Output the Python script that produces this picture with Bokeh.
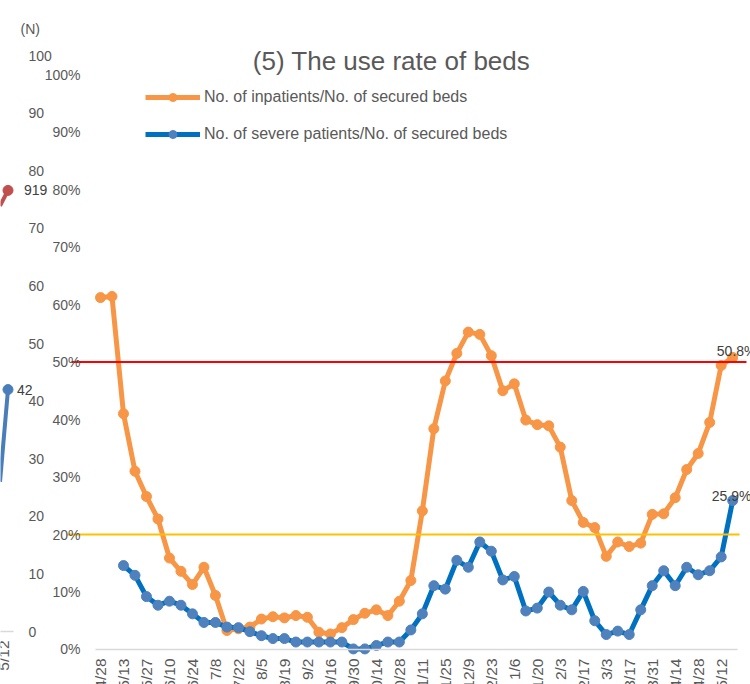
import math
from bokeh.plotting import figure
from bokeh.models import (Range1d, LinearAxis, FixedTicker, PrintfTickFormatter,
                          CustomJSTickFormatter, Legend, LegendItem, Label)
from bokeh.embed import file_html
from bokeh.resources import INLINE
from bokeh.core.properties import value

# ---------------- data ----------------
dates = ["4/28", "5/6", "5/13", "5/20", "5/27", "6/3", "6/10", "6/17", "6/24", "7/1",
         "7/8", "7/15", "7/22", "7/29", "8/5", "8/12", "8/19", "8/26", "9/2", "9/9",
         "9/16", "9/23", "9/30", "10/7", "10/14", "10/21", "10/28", "11/4", "11/11", "11/18",
         "11/25", "12/2", "12/9", "12/16", "12/23", "12/30", "1/6", "1/13", "1/20", "1/27",
         "2/3", "2/10", "2/17", "2/24", "3/3", "3/10", "3/17", "3/24", "3/31", "4/7",
         "4/14", "4/21", "4/28", "5/5", "5/12", "5/19"]

inpatients_rate = [61.2, 61.4, 41.0, 31.0, 26.6, 22.7, 15.9, 13.6, 11.3, 14.3,
                   9.4, 3.3, 3.6, 3.9, 5.3, 5.7, 5.5, 5.9, 5.6, 3.0,
                   2.7, 3.8, 5.2, 6.3, 6.9, 5.9, 8.4, 12.0, 24.1, 38.4,
                   46.7, 51.5, 55.2, 54.8, 51.1, 45.0, 46.2, 39.9, 39.1, 38.9,
                   35.2, 25.9, 22.1, 21.2, 16.2, 18.7, 17.9, 18.5, 23.5, 23.6,
                   26.4, 31.3, 34.1, 39.5, 49.4, 50.8]

severe_rate = [None, None, 14.6, 12.9, 9.2, 7.7, 8.4, 7.7, 6.2, 4.7,
               4.7, 3.9, 3.8, 3.1, 2.4, 1.9, 1.9, 1.3, 1.3, 1.3,
               1.3, 1.3, 0.1, 0.1, 0.7, 1.3, 1.3, 3.4, 6.2, 11.1,
               10.5, 15.5, 14.3, 18.7, 17.1, 12.1, 12.7, 6.7, 7.2, 10.0,
               7.7, 6.9, 10.1, 5.0, 2.6, 3.2, 2.6, 6.9, 11.1, 13.7,
               11.1, 14.3, 13.0, 13.7, 16.1, 25.9]

thresholds = [50, 20]
series_names = ["No. of inpatients/No. of secured beds",
                "No. of severe patients/No. of secured beds"]
title_text = "(5) The use rate of beds"
pct_ticks = [0, 10, 20, 30, 40, 50, 60, 70, 80, 90, 100]
n_ticks = [0, 10, 20, 30, 40, 50, 60, 70, 80, 90, 100]

# neighbouring chart (cut off at the left edge)
nb_dates = ["5/5", "5/12"]
nb_severe = [26, 42]
nb_total = [887, 919]

# ---------------- figure ----------------
W, H = 750, 684
p = figure(width=W, height=H, output_backend="svg", toolbar_location=None,
           x_axis_location=None, y_axis_location=None,
           x_range=Range1d(-8.70, 56.55), y_range=Range1d(-6.087, 112.87),
           min_border=0, min_border_left=0, min_border_right=0,
           min_border_top=0, min_border_bottom=0)
p.extra_y_ranges = {"n": Range1d(-9.201, 109.55), "nb2": Range1d(-110.4, 1314.6)}
p.extra_x_ranges = {"nb": Range1d(0.0625, 93.81)}
p.grid.visible = False
p.outline_line_color = None
p.background_fill_color = "white"
p.border_fill_color = "white"

FONT = "Liberation Sans"
GRAY = "#595959"

# x axis (category labels every two weeks)
xaxis = LinearAxis(
    ticker=FixedTicker(ticks=list(range(0, len(dates), 2))),
    formatter=CustomJSTickFormatter(args=dict(labels=dates),
                                    code="const i = Math.round(tick); return (i >= 0 && i < labels.length) ? labels[i] : '';"),
    fixed_location=0, bounds=(-0.45, 55.4),
    axis_line_color="#D9D9D9", axis_line_width=1.5,
    major_tick_line_color=None, minor_tick_line_color=None,
    major_tick_out=0, major_tick_in=0,
    major_label_orientation=math.pi / 2, major_label_standoff=9,
    major_label_text_font=FONT, major_label_text_font_size="15.5px",
    major_label_text_color=GRAY)
p.add_layout(xaxis, "below")

# percent axis
yaxis = LinearAxis(
    ticker=FixedTicker(ticks=pct_ticks), formatter=PrintfTickFormatter(format="%d%%"),
    fixed_location=-1.74, axis_line_color=None,
    major_tick_line_color=None, minor_tick_line_color=None,
    major_tick_out=0, major_tick_in=0, major_label_standoff=0,
    major_label_text_font=FONT, major_label_text_font_size="14px",
    major_label_text_color=GRAY)
p.add_layout(yaxis, "left")

# (N) axis of the neighbouring chart
naxis = LinearAxis(
    y_range_name="n", ticker=FixedTicker(ticks=n_ticks),
    fixed_location=-6.26, axis_line_color=None,
    major_tick_line_color=None, minor_tick_line_color=None,
    major_tick_out=0, major_tick_in=0, major_label_standoff=0,
    major_label_text_font=FONT, major_label_text_font_size="14px",
    major_label_text_color=GRAY)
p.add_layout(naxis, "right")

p.add_layout(Label(x=20, y=656, x_units="screen", y_units="screen", text="(N)",
                   text_font=FONT, text_font_size="14px", text_color=GRAY,
                   text_align="left", text_baseline="middle"))

# neighbouring chart pieces
p.segment(x0=[0.0], x1=[1.7], y0=[0], y1=[0], x_range_name="nb", y_range_name="n",
          line_color="#D9D9D9", line_width=1.5)
p.text(x=[1], y=[0], text=[nb_dates[-1]], x_range_name="nb", y_range_name="n",
       angle=math.pi / 2, x_offset=-5, y_offset=9, text_font=value(FONT),
       text_font_size="15.5px", text_color=GRAY, text_align="right", text_baseline="middle")
p.line(x=[0, 1], y=nb_total, x_range_name="nb", y_range_name="nb2",
       line_color="#C0504D", line_width=4)
p.scatter(x=[1], y=[nb_total[-1]], x_range_name="nb", y_range_name="nb2",
          size=10, fill_color="#C0504D", line_color="#C0504D")
p.text(x=[1], y=[nb_total[-1]], text=[str(nb_total[-1])], x_range_name="nb", y_range_name="nb2",
       x_offset=16, text_font=value(FONT), text_font_size="14px", text_color="#404040",
       text_baseline="middle", text_align="left")
p.line(x=[0, 1], y=nb_severe, x_range_name="nb", y_range_name="n",
       line_color="#4A7EBB", line_width=4)
p.scatter(x=[1], y=[nb_severe[-1]], x_range_name="nb", y_range_name="n",
          size=10, fill_color="#4A7EBB", line_color="#4A7EBB")
p.text(x=[1], y=[nb_severe[-1]], text=[str(nb_severe[-1])], x_range_name="nb", y_range_name="n",
       x_offset=9, text_font=value(FONT), text_font_size="14px", text_color="#404040",
       text_baseline="middle", text_align="left")

# main series
xi = list(range(len(dates)))
ORANGE = "#F79646"
l1 = p.line(xi, inpatients_rate, line_color=ORANGE, line_width=5, line_join="round")
s1 = p.scatter(xi, inpatients_rate, size=10, fill_color=ORANGE, line_color=ORANGE)

sx = [i for i, v in zip(xi, severe_rate) if v is not None]
sy = [v for v in severe_rate if v is not None]
l2 = p.line(sx, sy, line_color="#0070C0", line_width=5, line_join="round")
s2 = p.scatter(sx, sy, size=10, fill_color="#4F81BD", line_color="#4F81BD")

# reference lines
p.segment(x0=[-2.52, -2.87], x1=[56.2, 55.6], y0=thresholds, y1=thresholds,
          line_color=["#FF0000", "#FFC000"], line_width=2)

# end labels
p.text(x=[sx[-1]], y=[sy[-1]], text=[f"{sy[-1]:.1f}%"], y_offset=-5, x_offset=-1,
       text_font=value(FONT), text_font_size="14px", text_color="#404040",
       text_align="center", text_baseline="alphabetic")
p.text(x=[xi[-1]], y=[inpatients_rate[-1]], text=[f"{inpatients_rate[-1]:.1f}%"], y_offset=-6,
       x_offset=4, text_font=value(FONT), text_font_size="14px", text_color="#404040",
       text_align="center", text_baseline="alphabetic")

# title
p.add_layout(Label(x=391, y=624, x_units="screen", y_units="screen", text=title_text,
                   text_font=FONT, text_font_size="26px", text_color=GRAY,
                   text_align="center", text_baseline="middle"))

# legend
legend = Legend(items=[LegendItem(label=series_names[0], renderers=[l1, s1]),
                       LegendItem(label=series_names[1], renderers=[l2, s2])],
                location=(145, 540), orientation="vertical",
                glyph_width=55, glyph_height=20, label_height=20, label_standoff=4,
                spacing=17, padding=0, margin=0, border_line_color=None,
                background_fill_alpha=0, label_text_font=FONT,
                label_text_font_size="16px", label_text_color=GRAY)
p.add_layout(legend)

open("out.html", "w").write(file_html(p, INLINE))
